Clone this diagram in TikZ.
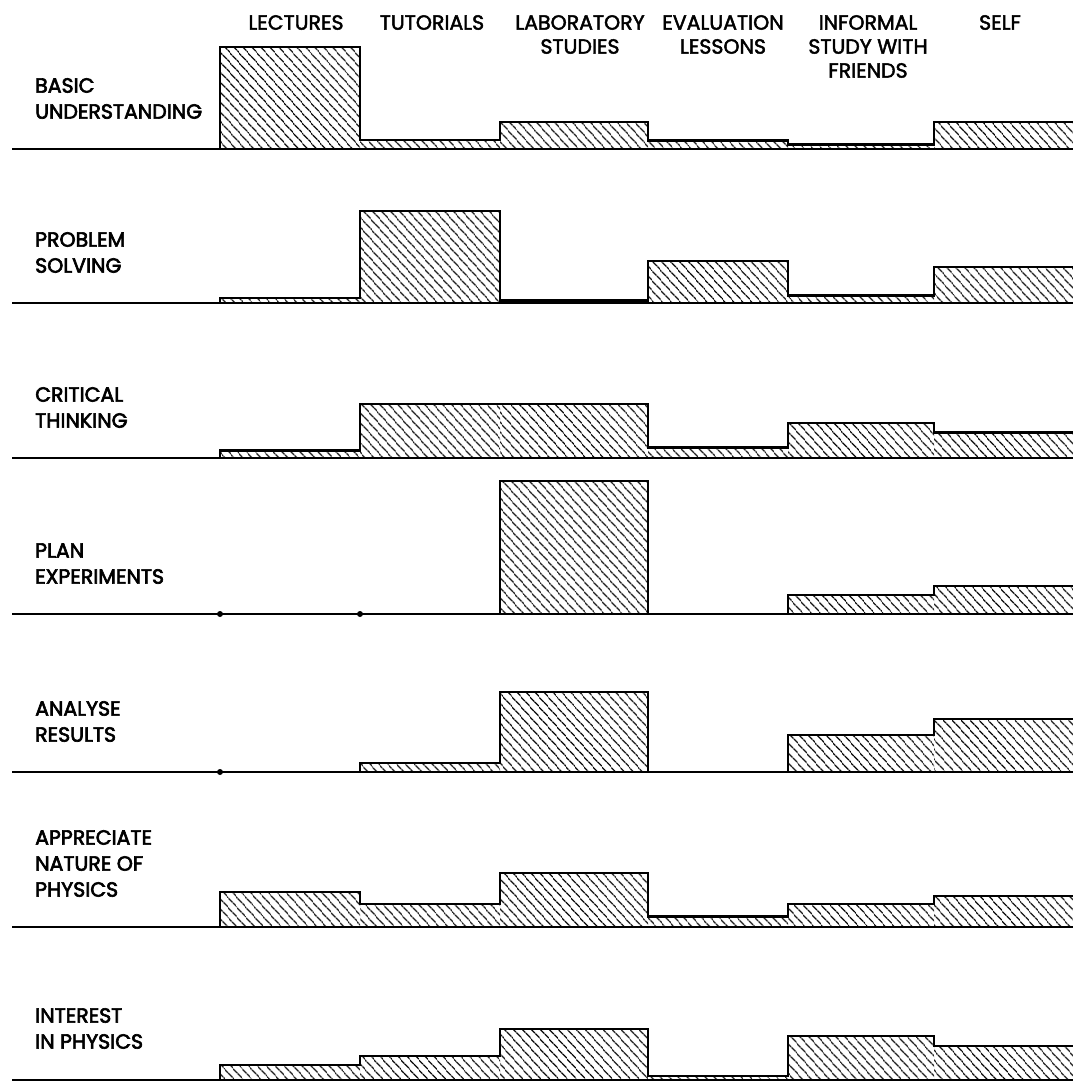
\documentclass[tikz,border=0pt]{standalone}
\usepackage{fontspec}
\setmainfont{Poppins}
\newfontfamily\medfont{Poppins}[FakeBold=2.2]
\newfontfamily\lblfont{Poppins}[FakeBold=3]
\usepackage{tikz}
\usetikzlibrary{patterns.meta}

\begin{document}
\begin{tikzpicture}[
  x=1pt,y=-1pt,
  hdr/.style={font=\medfont\fontsize{20.5}{24}\selectfont,align=center,anchor=north,inner sep=0pt},
  lbl/.style={font=\lblfont\fontsize{20.5}{26}\selectfont,align=left,anchor=south west,inner sep=0pt},
  bar/.style={pattern={Lines[angle=-48,distance=6.5pt,line width=1.5pt]}},
  sky/.style={line width=2.2pt,line join=miter},
  dot/.style={circle,inner sep=0pt,minimum size=6pt,fill}
  ]
\useasboundingbox (0,0) rectangle (1073,1082);
\def\xs{12}
\def\rowbars#1#2#3#4#5#6#7{%
  \fill[bar] (220,#1) rectangle (360,#1-#2);
  \fill[bar] (360,#1) rectangle (500,#1-#3);
  \fill[bar] (500,#1) rectangle (648,#1-#4);
  \fill[bar] (648,#1) rectangle (788,#1-#5);
  \fill[bar] (788,#1) rectangle (934,#1-#6);
  \fill[bar] (934,#1) rectangle (1073,#1-#7);
  \draw[sky] (\xs,#1) -- (1073,#1);
  \draw[sky] (\xs,#1) -- (220,#1) -- (220,#1-#2) -- (360,#1-#2) -- (360,#1-#3)
    -- (500,#1-#3) -- (500,#1-#4) -- (648,#1-#4) -- (648,#1-#5) -- (788,#1-#5)
    -- (788,#1-#6) -- (934,#1-#6) -- (934,#1-#7) -- (1073,#1-#7);
}
\node[hdr] (lectures) at (296,15) {LECTURES};
\node[hdr] (tutorials) at (432,15) {TUTORIALS};
\node[hdr] (lab) at (580,15) {LABORATORY\\STUDIES};
\node[hdr] (eval) at (723,15) {EVALUATION\\LESSONS};
\node[hdr] (informal) at (868,15) {INFORMAL\\STUDY WITH\\FRIENDS};
\node[hdr] (self) at (1000,15) {SELF};

\node[lbl] (basic) at (35,119) {BASIC\\UNDERSTANDING};
\rowbars{149}{102}{9}{27}{8.5}{4.5}{27}
\node[lbl] (problem) at (35,273) {PROBLEM\\SOLVING};
\rowbars{303}{5}{92}{2.5}{42}{7.5}{36}
\node[lbl] (critical) at (35,428) {CRITICAL\\THINKING};
\rowbars{458}{7.5}{54}{54}{10.5}{35}{25.5}
\node[lbl] (plan) at (35,584) {PLAN\\EXPERIMENTS};
\rowbars{614}{0}{0}{133}{0}{19}{28}
\node[dot] (d1) at (220,614) {};
\node[dot] (d2) at (360,614) {};
\node[lbl] (analyse) at (35,742) {ANALYSE\\RESULTS};
\rowbars{772}{0}{9}{80}{0}{37}{53}
\node[dot] (d3) at (220,772) {};
\node[lbl] (appreciate) at (35,897) {APPRECIATE\\NATURE OF\\PHYSICS};
\rowbars{927}{35}{23}{54}{10.5}{23}{31}
\node[lbl] (interest) at (35,1049) {INTEREST\\IN PHYSICS};
\rowbars{1080}{15}{24}{51}{4}{44}{34}
\end{tikzpicture}
\end{document}
